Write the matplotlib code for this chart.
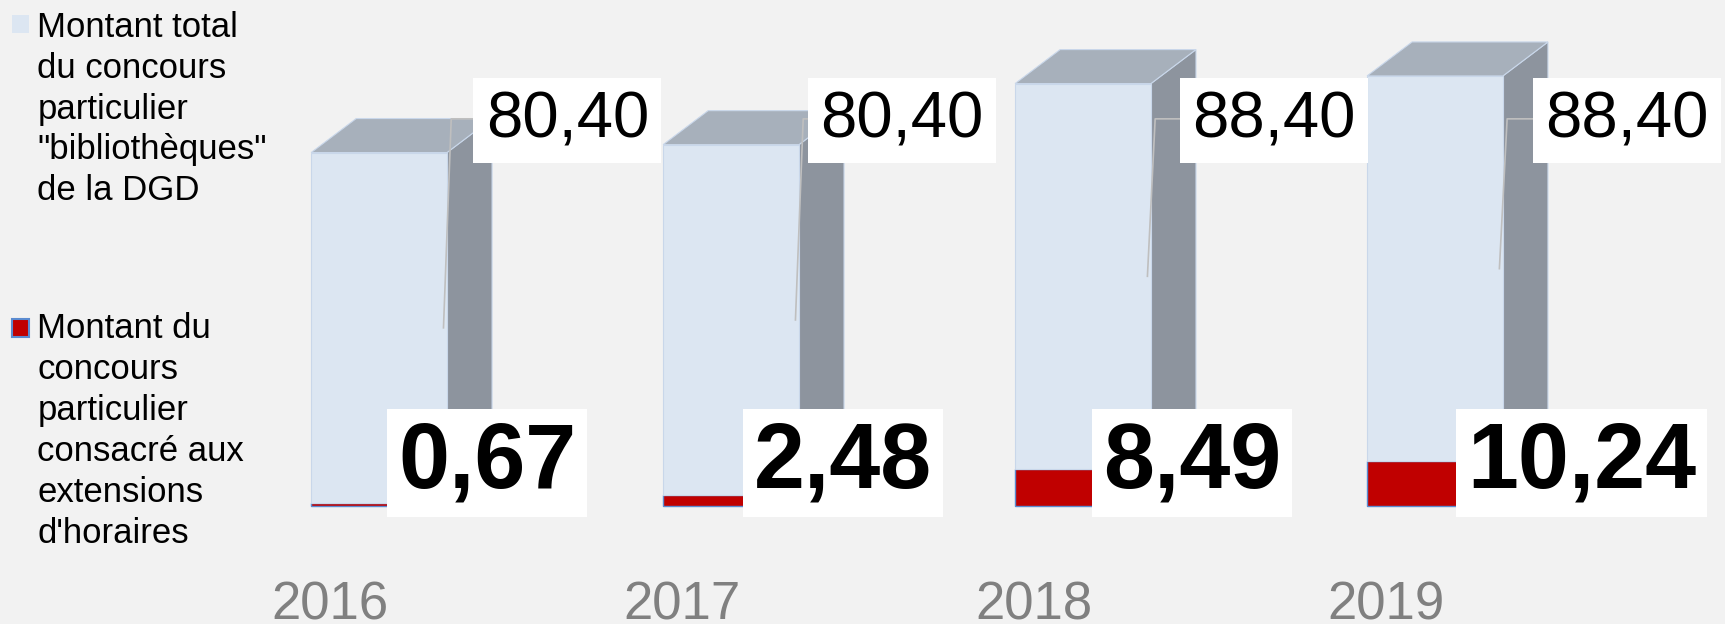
import numpy as np
import matplotlib.pyplot as plt
from matplotlib.patches import Polygon, Rectangle

# data (millions d'euros)
years = ["2016", "2017", "2018", "2019"]
total_dgd = [80.40, 80.40, 88.40, 88.40]
extensions = [0.67, 2.48, 8.49, 10.24]

legend_total = 'Montant total\ndu concours\nparticulier\n"bibliothèques"\nde la DGD'
legend_ext = "Montant du\nconcours\nparticulier\nconsacré aux\nextensions\nd'horaires"

# layout of the hand-placed data labels (offsets from bar centre, in category units)
total_label_dx = [0.303, 0.254, 0.311, 0.313]
ext_label_dx = [0.054, 0.065, 0.057, 0.091]
TOTAL_LABEL_Y = 84.6
EXT_LABEL_Y = 4.3

BG = "#f2f2f2"
FRONT = "#dce6f2"
TOP = "#a7b0bb"
SIDE = "#8d949e"
RED = "#c00000"
RED_SIDE = "#8a0c0c"
EDGE = "#c9d7ea"
RED_EDGE = "#5b8bd0"

plt.rcParams["font.family"] = ["Liberation Sans", "DejaVu Sans"]


def fmt(v):
    return f"{v:.2f}".replace(".", ",")


W, H, DPI = 1725, 624, 100
fig = plt.figure(figsize=(W / DPI, H / DPI), dpi=DPI, facecolor=BG)
ax = fig.add_axes([0, 0, 1, 1])
ax.set_facecolor(BG)
ax.axis("off")
ax.set_xlim(-1.077, 3.824)
ax.set_ylim(-27.06, 116.06)

x = np.arange(len(years))
ext = np.array(extensions)
tot = np.array(total_dgd)
top = ext + tot
width = 0.386
dx, dy = 0.128, 7.8  # fake 3d depth

# front faces: the DGD total is stacked on the extension amount
ax.bar(x, ext, width, color=RED, edgecolor=RED_EDGE, linewidth=1, zorder=3)
ax.bar(x, tot, width, bottom=ext, color=FRONT, edgecolor=EDGE, linewidth=0.8, zorder=3)

# side and top faces
for xi, e, t in zip(x, ext, top):
    xl, xr = xi - width / 2, xi + width / 2
    ax.add_patch(Polygon([(xr, 0), (xr + dx, dy), (xr + dx, e + dy), (xr, e)],
                         facecolor=RED_SIDE, edgecolor="none", zorder=2))
    ax.add_patch(Polygon([(xr, e), (xr + dx, e + dy), (xr + dx, t + dy), (xr, t)],
                         facecolor=SIDE, edgecolor=EDGE, linewidth=0.8, zorder=2))
    ax.add_patch(Polygon([(xl, t), (xl + dx, t + dy), (xr + dx, t + dy), (xr, t)],
                         facecolor=TOP, edgecolor=EDGE, linewidth=0.8, zorder=2))

# leader lines + labels for the DGD total
for xi, e, t, off in zip(x, ext, tot, total_label_dx):
    xr = xi + width / 2
    elbow = TOTAL_LABEL_Y + 4.2
    ax.plot([xr - 0.01, xr + 0.012, xi + off], [e + t / 2, elbow, elbow],
            color="#bfbfbf", linewidth=1.2, zorder=4)
    ax.text(xi + off, TOTAL_LABEL_Y, fmt(t), ha="left", va="baseline", fontsize=47,
            color="black", zorder=5,
            bbox=dict(boxstyle="square,pad=0.19", facecolor="white", edgecolor="none"))

# labels for the extension amount
for xi, e, off in zip(x, ext, ext_label_dx):
    ax.text(xi + off, EXT_LABEL_Y, fmt(e), ha="left", va="baseline", fontsize=66,
            fontweight="bold", color="black", zorder=6,
            bbox=dict(boxstyle="square,pad=0.12", facecolor="white", edgecolor="none"))

# category labels
for xi, yr in zip(x, years):
    ax.text(xi - 0.14, -26.0, yr, ha="center", va="baseline", fontsize=38, color="#808080")

# legend, drawn by hand to keep the two entries far apart like the original
fig.add_artist(Rectangle((11.7 / W, 1 - 33.3 / H), 17.6 / W, 18.3 / H,
                         transform=fig.transFigure, facecolor=FRONT, edgecolor="none"))
fig.text(37.3 / W, 1 - 11.0 / H, legend_total, ha="left", va="top",
         fontsize=25, linespacing=1.30)
fig.add_artist(Rectangle((11.7 / W, 1 - 337.3 / H), 17.6 / W, 18.3 / H,
                         transform=fig.transFigure, facecolor=RED, edgecolor=RED_EDGE,
                         linewidth=1.5))
fig.text(37.3 / W, 1 - 312.0 / H, legend_ext, ha="left", va="top",
         fontsize=25, linespacing=1.31)

fig.savefig("out.png", dpi=DPI, facecolor=BG)
